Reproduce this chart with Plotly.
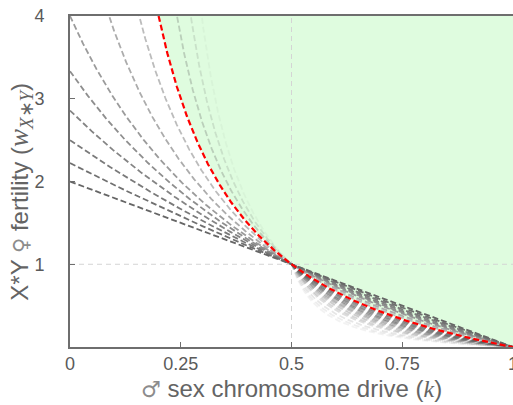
import numpy as np
import plotly.graph_objects as go

# ---- data ----
k_grid = np.linspace(0.0, 1.0, 801)
# family parameter b: w = (1-k) / (k + b(1-2k)); b = 0 is the threshold (red)
b_pos = [0.5, 0.45, 0.4, 0.35, 0.3, 0.25, 0.17, 0.08]
gray_pos = [102, 112, 122, 132, 142, 155, 172, 188]
b_neg = [-0.1, -0.2, -0.3, -0.4, -0.5, -0.65, -0.8, -1.0, -1.25, -1.5, -2.0, -2.5, -3.0]
alpha_neg_left = [0.28, 0.16, 0.05, 0.0, 0.0, 0.0, 0.0, 0.0, 0.0, 0.0, 0.0, 0.0, 0.0]
alpha_neg_right = [0.7, 0.62, 0.55, 0.5, 0.45, 0.4, 0.35, 0.3, 0.25, 0.2, 0.15, 0.11, 0.08]
k_threshold_start = 0.2
ref_k = [0.5]
ref_w = [1.0]
x_ticks = [0, 0.25, 0.5, 0.75, 1]
x_ticktext = ["0", "0.25", "0.5", "0.75", "1"]
y_ticks = [1, 2, 3, 4]
y_ticktext = ["1", "2", "3", "4"]
x_range = [0, 1]
y_range = [0, 4]


def family(k, b):
    with np.errstate(divide="ignore", invalid="ignore"):
        return (1 - k) / (k + b * (1 - 2 * k))


fig = go.Figure()

# green region above the threshold curve
k_red = k_grid[k_grid >= k_threshold_start]
w_red = family(k_red, 0.0)
fill_x = np.concatenate([k_red, [x_range[1], k_threshold_start]])
fill_y = np.concatenate([w_red, [y_range[1], y_range[1]]])
fig.add_trace(go.Scatter(x=fill_x, y=fill_y, mode="lines", fill="toself",
                         fillcolor="rgb(223,252,223)", line=dict(width=0),
                         hoverinfo="skip", showlegend=False))

# reference guides
guide = dict(color="rgb(212,212,212)", width=1, dash="5px,4px")
fig.add_trace(go.Scatter(x=x_range, y=[ref_w[0], ref_w[0]], mode="lines", line=guide,
                         showlegend=False, hoverinfo="skip"))
fig.add_trace(go.Scatter(x=[ref_k[0], ref_k[0]], y=y_range, mode="lines", line=guide,
                         showlegend=False, hoverinfo="skip"))

# light family members (b < 0), drawn first
for b, al, ar in zip(b_neg[::-1], alpha_neg_left[::-1], alpha_neg_right[::-1]):
    w = family(k_grid, b)
    w = np.where((w > 6) | (w < 0), np.nan, w)
    left = k_grid <= ref_k[0]
    right = k_grid >= ref_k[0]
    if al > 0:
        fig.add_trace(go.Scatter(x=k_grid[left], y=w[left], mode="lines",
                                 line=dict(color=f"rgba(90,90,90,{al})", width=1.8, dash="6px,3px"),
                                 showlegend=False, hoverinfo="skip"))
    fig.add_trace(go.Scatter(x=k_grid[right], y=w[right], mode="lines",
                             line=dict(color=f"rgba(90,90,90,{ar})", width=1.8, dash="6px,3px"),
                             showlegend=False, hoverinfo="skip"))

# darker family members (b > 0)
for b, g in zip(b_pos[::-1], gray_pos[::-1]):
    w = family(k_grid, b)
    w = np.where(w > 6, np.nan, w)
    fig.add_trace(go.Scatter(x=k_grid, y=w, mode="lines",
                             line=dict(color=f"rgb({g},{g},{g})", width=1.8, dash="6px,3px"),
                             showlegend=False, hoverinfo="skip"))

# threshold curve
fig.add_trace(go.Scatter(x=k_red, y=w_red, mode="lines",
                         line=dict(color="rgb(255,0,0)", width=2.2, dash="6px,3px"),
                         showlegend=False, hoverinfo="skip"))

tick_font = dict(family="Liberation Sans, Arial, sans-serif", size=18, color="rgb(90,90,90)")
axis_common = dict(showgrid=False, zeroline=False, showline=True, mirror=True,
                   linecolor="rgb(110,110,110)", linewidth=1.6, automargin=False,
                   ticks="inside", ticklen=5, tickwidth=1.4, tickcolor="rgb(110,110,110)",
                   tickfont=tick_font, ticklabeloverflow="allow")

fig.update_xaxes(range=x_range, tickvals=x_ticks, ticktext=x_ticktext, **axis_common)
fig.update_yaxes(range=y_range, tickvals=y_ticks, ticktext=y_ticktext, ticklabelstandoff=20,
                 **axis_common)

title_font = dict(family="Liberation Sans, Arial, sans-serif", size=24, color="rgb(100,100,100)")
x_title = ("<span style='font-family:DejaVu Sans;font-size:22px;color:rgb(140,140,140)'>♂</span>"
           " sex chromosome drive (<span style='font-family:Liberation Serif'><i>k</i></span>)")
y_title = ("X*Y <span style='font-family:DejaVu Sans;font-size:21px;color:rgb(140,140,140)'>♀</span>"
           " fertility (<span style='font-family:Liberation Serif;font-size:27px'><i>w</i>"
           "<sub><i>X</i>∗<i>Y</i></sub></span>)")

fig.add_annotation(text=x_title, xref="paper", yref="paper", x=0.5, y=-0.125,
                   xanchor="center", yanchor="middle", showarrow=False, font=title_font)
fig.add_annotation(text=y_title, xref="paper", yref="paper", x=-0.11, y=0.47,
                   xanchor="center", yanchor="middle", textangle=-90, showarrow=False,
                   font=title_font)

fig.update_layout(width=513, height=405, margin=dict(l=70, r=0, t=16, b=58),
                  paper_bgcolor="white", plot_bgcolor="white", showlegend=False)

fig.write_html("out.html", config={"displayModeBar": False},
               post_script="document.body.style.margin='0px';")
